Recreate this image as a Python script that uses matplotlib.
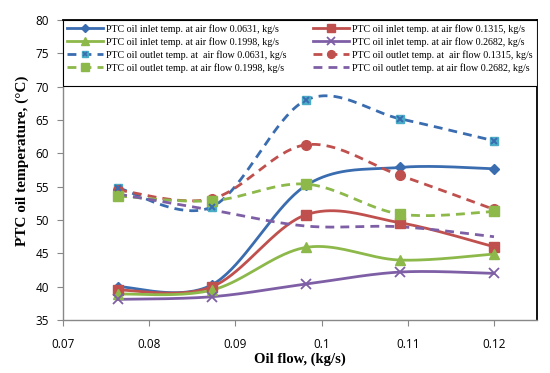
import numpy as np
import matplotlib
matplotlib.use("Agg")
import matplotlib.pyplot as plt
from matplotlib.lines import Line2D
from matplotlib.patches import Rectangle
from matplotlib.legend_handler import HandlerTuple

# datos
oil_flow = [0.0764, 0.0873, 0.0982, 0.1091, 0.1200]

inlet_0631 = [40.0, 40.3, 55.2, 57.9, 57.7]
inlet_1315 = [39.5, 40.0, 50.8, 49.6, 46.0]
inlet_1998 = [38.9, 39.5, 45.9, 44.0, 44.9]
inlet_2682 = [38.1, 38.5, 40.4, 42.2, 42.0]

outlet_0631 = [54.8, 52.0, 68.0, 65.2, 61.9]
outlet_1315 = [54.5, 53.2, 61.3, 56.7, 51.6]
outlet_1998 = [53.6, 52.9, 55.4, 50.9, 51.3]
outlet_2682 = [53.9, 51.5, 49.1, 49.0, 47.5]

labels = ["PTC oil inlet temp. at air flow 0.0631, kg/s",
          "PTC oil inlet temp. at air flow 0.1315, kg/s",
          "PTC oil inlet temp. at air flow 0.1998, kg/s",
          "PTC oil inlet temp. at air flow 0.2682, kg/s",
          "PTC oil outlet temp. at  air flow 0.0631, kg/s",
          "PTC oil outlet temp. at  air flow 0.1315, kg/s",
          "PTC oil outlet temp. at air flow 0.1998, kg/s",
          "PTC oil outlet temp. at air flow 0.2682, kg/s"]

blue = "#3A6CB0"
red = "#C0504D"
green = "#8DB84A"
purple = "#7E5FA6"
teal = "#4BACC6"


#suavizado tipo excel (bezier catmull-rom)
def smooth(x, y, n=40):
    p = np.column_stack([x, y]).astype(float)
    p = np.vstack([p[0], p, p[-1]])
    out = []
    for i in range(1, len(p) - 2):
        p0, p1, p2, p3 = p[i - 1], p[i], p[i + 1], p[i + 2]
        c1 = p1 + (p2 - p0) / 6.0
        c2 = p2 - (p3 - p1) / 6.0
        t = np.linspace(0, 1, n)[:, None]
        b = (1 - t)**3 * p1 + 3 * (1 - t)**2 * t * c1 + 3 * (1 - t) * t**2 * c2 + t**3 * p2
        out.append(b)
    b = np.vstack(out)
    return b[:, 0], b[:, 1]


fig = plt.figure(figsize=(5.5, 3.73), dpi=100)
ax = fig.add_axes([0.1145, 0.142, 0.862, 0.804])

lw = 2.0
dash = (3.2, 2.2)

series = [
    (inlet_0631, blue, "-", dict(marker="D", ms=5.2, mfc=blue, mec=blue)),
    (inlet_1315, red, "-", dict(marker="s", ms=6.5, mfc=red, mec=red)),
    (inlet_1998, green, "-", dict(marker="^", ms=7, mfc=green, mec=green)),
    (inlet_2682, purple, "-", dict(marker="x", ms=7, mew=1.3, mfc=purple, mec=purple)),
    (outlet_0631, blue, "--", dict(marker="s", ms=6.2, mfc=teal, mec=teal)),
    (outlet_1315, red, "--", dict(marker="o", ms=7, mfc=red, mec=red)),
    (outlet_1998, green, "--", dict(marker="s", ms=7.5, mfc=green, mec=green)),
    (outlet_2682, purple, "--", dict(marker="None")),
]

handles = []
for (y, c, ls, mk), lab in zip(series, labels):
    xs, ys = smooth(oil_flow, y)
    if ls == "--":
        ax.plot(xs, ys, color=c, lw=lw, dashes=dash, zorder=2)
    else:
        ax.plot(xs, ys, color=c, lw=lw, zorder=2)
    ax.plot(oil_flow, y, ls="None", zorder=3, **mk)
    if ls == "--":
        h = Line2D([], [], color=c, lw=lw, dashes=dash, **mk)
    else:
        h = Line2D([], [], color=c, lw=lw, **mk)
    handles.append(h)

# cruz azul sobre el cuadrado celeste
ax.plot(oil_flow, outlet_0631, ls="None", marker="x", ms=4.5, mew=1.4, color=blue, zorder=4)
cross = Line2D([], [], ls="None", marker="x", ms=3.6, mew=1.2, color=blue)
handles[4] = (handles[4], cross)

ax.set_xlim(0.07, 0.125)
ax.set_ylim(35, 80)
ax.set_xticks([0.07, 0.08, 0.09, 0.1, 0.11, 0.12])
ax.set_xticklabels(["0.07", "0.08", "0.09", "0.1", "0.11", "0.12"])
ax.set_yticks(range(35, 81, 5))
ax.tick_params(direction="out", length=4, width=0.8, color="#888888",
               labelsize=8.5, pad=6)
for t in ax.get_xticklabels() + ax.get_yticklabels():
    t.set_family("Open Sans")
ax.tick_params(axis="x", pad=9)

for s in ["left", "bottom"]:
    ax.spines[s].set_color("#888888")
    ax.spines[s].set_linewidth(1.0)
for s in ["top", "right"]:
    ax.spines[s].set_color("black")
    ax.spines[s].set_linewidth(1.3)

ax.set_xlabel("Oil flow, (kg/s)", family="Liberation Serif", fontweight="bold",
              fontsize=10.5, labelpad=1)
ax.set_ylabel("PTC oil temperature, (\u00b0C)", family="Liberation Serif",
              fontweight="bold", fontsize=11)
ax.yaxis.set_label_coords(-0.072, 0.53)

# marco de la leyenda (como en excel, mas bajo que las filas)
ax.add_patch(Rectangle((0, 0.78), 1, 0.22, transform=ax.transAxes, fill=True,
                       facecolor="white", edgecolor="black", lw=0.8, zorder=5))

order = [0, 2, 4, 6, 1, 3, 5, 7]
leg = ax.legend([handles[i] for i in order], [labels[i] for i in order], ncol=2,
                loc="upper left", bbox_to_anchor=(0.0, 0.0, 1.0, 1.0), mode="expand",
                prop={"family": "Liberation Serif", "size": 7.2},
                handlelength=3.6, handletextpad=0.3, columnspacing=1.0,
                labelspacing=0.33, borderpad=0.4, borderaxespad=0.0,
                markerscale=0.8, frameon=False,
                handler_map={tuple: HandlerTuple(ndivide=1, pad=0)})
leg.set_zorder(6)

fig.savefig("out.png", dpi=100)
